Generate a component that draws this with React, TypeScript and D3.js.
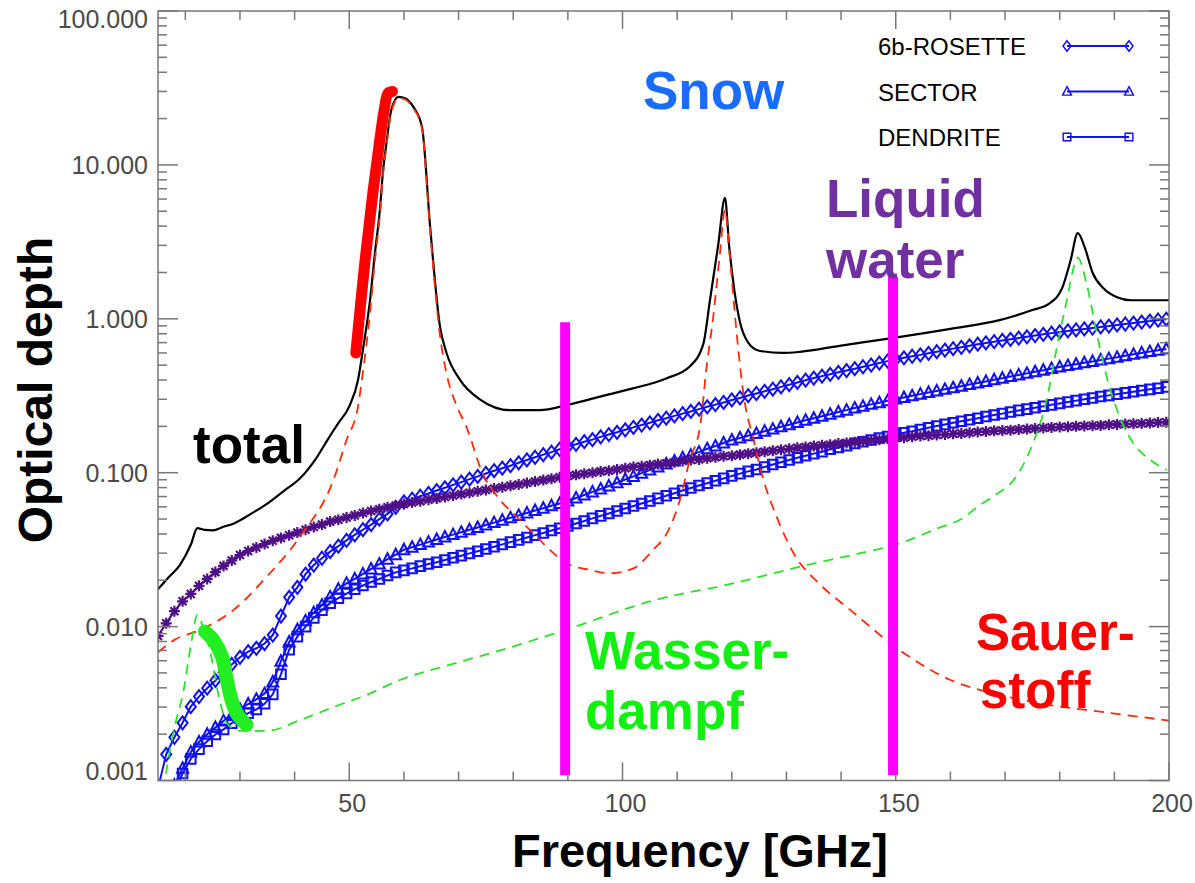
import React from 'react';
import * as d3 from 'd3';

// marker frequency grid [GHz]
const gridFreq = [
  15, 16.5, 18, 19.5, 21, 22.5, 24, 25.5, 27, 28.5,
  30, 31.5, 33, 34.5, 36, 37.5, 39, 40.5, 42, 43.5,
  45, 46.5, 48, 49.5, 51, 52.5, 54, 55.5, 57, 58.5,
  60, 61.5, 63, 64.5, 66, 67.5, 69, 70.5, 72, 73.5,
  75, 76.5, 78, 79.5, 81, 82.5, 84, 85.5, 87, 88.5,
  90, 91.5, 93, 94.5, 96, 97.5, 99, 100.5, 102, 103.5,
  105, 106.5, 108, 109.5, 111, 112.5, 114, 115.5, 117, 118.5,
  120, 121.5, 123, 124.5, 126, 127.5, 129, 130.5, 132, 133.5,
  135, 136.5, 138, 139.5, 141, 142.5, 144, 145.5, 147, 148.5,
  150, 151.5, 153, 154.5, 156, 157.5, 159, 160.5, 162, 163.5,
  165, 166.5, 168, 169.5, 171, 172.5, 174, 175.5, 177, 178.5,
  180, 181.5, 183, 184.5, 186, 187.5, 189, 190.5, 192, 193.5,
  195, 196.5, 198, 199.5,
];

const rosette = [
  0.000891, 0.00148, 0.00191, 0.00237, 0.00302, 0.00351, 0.00398, 0.00447, 0.00505, 0.00568,
  0.00632, 0.00687, 0.00723, 0.00776, 0.00881, 0.0117, 0.0155, 0.018, 0.0219, 0.0251,
  0.0278, 0.0307, 0.0333, 0.0363, 0.0394, 0.0426, 0.046, 0.0499, 0.054, 0.0596,
  0.0646, 0.0673, 0.0703, 0.0733, 0.0766, 0.0798, 0.0834, 0.0869, 0.0908, 0.0946,
  0.0989, 0.103, 0.107, 0.111, 0.116, 0.121, 0.126, 0.131, 0.136, 0.142,
  0.148, 0.153, 0.159, 0.164, 0.171, 0.177, 0.183, 0.19, 0.197, 0.204,
  0.211, 0.219, 0.226, 0.234, 0.242, 0.25, 0.259, 0.268, 0.277, 0.286,
  0.297, 0.306, 0.317, 0.327, 0.338, 0.349, 0.361, 0.373, 0.386, 0.399,
  0.412, 0.424, 0.436, 0.449, 0.461, 0.474, 0.488, 0.501, 0.516, 0.531,
  0.546, 0.558, 0.571, 0.583, 0.597, 0.611, 0.625, 0.64, 0.653, 0.668,
  0.684, 0.697, 0.71, 0.723, 0.736, 0.75, 0.764, 0.778, 0.793, 0.807,
  0.822, 0.834, 0.847, 0.859, 0.871, 0.885, 0.897, 0.912, 0.925, 0.938,
  0.953, 0.966, 0.982, 0.995,
];

const sector = [
  0.000398, 0.000631, 0.000933, 0.0012, 0.00153, 0.00178, 0.002, 0.00221, 0.00244, 0.00264,
  0.0029, 0.00314, 0.00337, 0.00367, 0.00437, 0.00596, 0.00794, 0.00955, 0.0109, 0.0123,
  0.0138, 0.0156, 0.0175, 0.0191, 0.0204, 0.022, 0.0237, 0.0255, 0.0274, 0.0293,
  0.0316, 0.0328, 0.0341, 0.0354, 0.0368, 0.0382, 0.0396, 0.041, 0.0426, 0.0441,
  0.0457, 0.0474, 0.0491, 0.0509, 0.0527, 0.0547, 0.0568, 0.0588, 0.061, 0.0631,
  0.0655, 0.0685, 0.0716, 0.075, 0.0783, 0.082, 0.0861, 0.0904, 0.0946, 0.0993,
  0.104, 0.109, 0.114, 0.119, 0.125, 0.13, 0.136, 0.143, 0.149, 0.156,
  0.163, 0.168, 0.174, 0.18, 0.186, 0.192, 0.199, 0.205, 0.212, 0.219,
  0.226, 0.233, 0.24, 0.248, 0.255, 0.263, 0.27, 0.278, 0.285, 0.293,
  0.301, 0.308, 0.316, 0.324, 0.332, 0.34, 0.348, 0.356, 0.365, 0.374,
  0.383, 0.392, 0.402, 0.411, 0.422, 0.432, 0.442, 0.453, 0.463, 0.475,
  0.486, 0.497, 0.507, 0.518, 0.528, 0.54, 0.551, 0.562, 0.575, 0.588,
  0.6, 0.612, 0.625, 0.637,
];

const dendrite = [
  0.000316, 0.000562, 0.000851, 0.00111, 0.00138, 0.0016, 0.0018, 0.00199, 0.00215, 0.00236,
  0.00254, 0.00274, 0.0029, 0.00315, 0.00363, 0.0049, 0.00708, 0.00861, 0.01, 0.0114,
  0.0128, 0.0142, 0.0153, 0.0164, 0.0175, 0.0185, 0.0195, 0.0204, 0.0215, 0.0225,
  0.0232, 0.0239, 0.0247, 0.0255, 0.0262, 0.0271, 0.028, 0.0289, 0.0299, 0.0309,
  0.0319, 0.033, 0.0342, 0.0354, 0.0366, 0.0379, 0.0393, 0.0406, 0.0421, 0.0436,
  0.0451, 0.0468, 0.0485, 0.0505, 0.0524, 0.0543, 0.0564, 0.0585, 0.0608, 0.0631,
  0.0655, 0.0681, 0.0708, 0.0736, 0.0766, 0.0796, 0.0826, 0.0855, 0.0887, 0.0918,
  0.0953, 0.0986, 0.102, 0.105, 0.109, 0.113, 0.117, 0.121, 0.125, 0.129,
  0.133, 0.137, 0.142, 0.146, 0.15, 0.155, 0.159, 0.163, 0.168, 0.172,
  0.177, 0.182, 0.186, 0.191, 0.196, 0.201, 0.206, 0.211, 0.216, 0.221,
  0.226, 0.232, 0.237, 0.242, 0.248, 0.254, 0.259, 0.264, 0.27, 0.276,
  0.282, 0.288, 0.294, 0.3, 0.306, 0.313, 0.318, 0.324, 0.33, 0.336,
  0.342, 0.348, 0.354, 0.361,
];

const liquid = [
  0.00869, 0.0105, 0.0126, 0.0146, 0.0163, 0.0184, 0.0204, 0.0226, 0.0248, 0.0269,
  0.0292, 0.031, 0.0327, 0.0344, 0.0361, 0.0377, 0.0392, 0.0408, 0.0426, 0.0444,
  0.046, 0.0481, 0.0495, 0.0512, 0.0528, 0.0547, 0.0564, 0.0579, 0.0597, 0.0611,
  0.0627, 0.064, 0.0653, 0.0667, 0.0681, 0.0695, 0.0711, 0.0726, 0.0741, 0.0757,
  0.0773, 0.0789, 0.0805, 0.0822, 0.0839, 0.0857, 0.0877, 0.0895, 0.0914, 0.0933,
  0.0953, 0.0968, 0.0984, 0.1, 0.102, 0.103, 0.105, 0.107, 0.109, 0.11,
  0.112, 0.114, 0.115, 0.117, 0.119, 0.121, 0.122, 0.124, 0.126, 0.128,
  0.129, 0.131, 0.133, 0.135, 0.137, 0.139, 0.141, 0.143, 0.145, 0.147,
  0.149, 0.151, 0.152, 0.155, 0.156, 0.158, 0.16, 0.162, 0.164, 0.166,
  0.168, 0.169, 0.171, 0.173, 0.174, 0.176, 0.177, 0.179, 0.18, 0.182,
  0.184, 0.185, 0.187, 0.188, 0.189, 0.191, 0.192, 0.194, 0.195, 0.197,
  0.198, 0.199, 0.2, 0.201, 0.202, 0.203, 0.205, 0.206, 0.207, 0.208,
  0.209, 0.21, 0.212, 0.213,
];

// total optical depth (black)
const totalFreq = [
  15, 17, 19, 21, 22.2, 23.5, 25, 27, 29, 32, 35, 38, 41, 44, 46, 48, 50,
  51.6, 52.5, 53.8, 54.7, 55.6, 56.2, 56.8, 57.7, 59, 60.3, 61.7, 63.3, 64.8, 66.6, 67.8,
  70.3, 73.9, 79.4, 84.9, 89.8, 95.9, 101.9, 108, 112.3, 114.8, 116, 117.5, 118.75,
  119.5, 120.5, 121.5, 123, 125, 129.4, 132.5, 140, 149, 160, 169, 175, 178,
  180.5, 182, 183.3, 184.6, 186, 188, 190.5, 193, 200,
];
const totalDepth = [
  0.0175, 0.021, 0.0251, 0.034, 0.0436, 0.0425, 0.0422, 0.0445, 0.047, 0.054, 0.063, 0.076, 0.092, 0.125, 0.163, 0.21, 0.27,
  0.4, 0.63, 1.32, 2.68, 5.1, 9.3, 13.8, 22.8, 27.7, 27.0, 23.9, 17.7, 3.96, 0.89, 0.6,
  0.4, 0.3, 0.255, 0.255, 0.275, 0.312, 0.353, 0.41, 0.49, 0.69, 1.32, 3.0, 6.1,
  3.0, 1.5, 0.95, 0.7, 0.62, 0.6, 0.61, 0.67, 0.746, 0.86, 0.98, 1.14, 1.25,
  1.6, 2.4, 3.6, 2.9, 2.0, 1.58, 1.38, 1.32, 1.32,
];

// oxygen (red dashed)
const oxyFreq = [
  15, 18, 22.7, 28.8, 34.9, 41, 47.1, 49.5, 51.6, 52.5, 53.8, 54.7, 55.6, 56.2, 56.8,
  57.7, 59, 60.3, 61.7, 63.3, 64.8, 66.6, 67.8, 69.5, 71.4, 74.4, 77.6, 80.6, 83.7, 86.7,
  89.8, 94.1, 97.7, 102, 105.6, 108.1, 110.5, 112.3, 114.2, 115.4, 116.6, 117.8, 118.75, 119.6, 120.9,
  122.1, 124, 125.8, 128.2, 131.3, 136, 141.6, 150.8, 160, 169, 178, 187.4, 200,
];
const oxyDepth = [
  0.0068, 0.0082, 0.0095, 0.0128, 0.0211, 0.0384, 0.0897, 0.163, 0.27, 0.45, 1.1, 2.4, 4.7, 8.8, 13.2,
  22, 27.2, 26.5, 23.4, 17.3, 3.7, 0.78, 0.44, 0.28, 0.2, 0.099, 0.0665, 0.0518, 0.0403, 0.0315,
  0.0258, 0.0233, 0.0222, 0.0239, 0.0315, 0.0403, 0.0665, 0.121, 0.2, 0.49, 1.03, 2.6, 5.1, 2.6, 0.8,
  0.33, 0.163, 0.0897, 0.0518, 0.03, 0.019, 0.0129, 0.007, 0.0045, 0.0036, 0.0031, 0.0028, 0.00245,
];

// water vapour (green dashed)
const vapFreq = [
  15, 16.3, 18, 19.6, 21, 22.2, 23.5, 24.5, 26, 27.6, 30, 34.9, 41, 47.1, 53.2,
  59.3, 68, 77.6, 89.5, 106, 120, 132.5, 143.5, 150, 158, 162, 165.4, 167.8, 172, 175.1,
  177.6, 179.4, 181.3, 182.8, 183.3, 184.9, 186.8, 188.6, 191, 193.5, 196.6, 199.6,
];
const vapDepth = [
  0.0004, 0.001, 0.0022, 0.0037, 0.0075, 0.0119, 0.0092, 0.007, 0.0037, 0.00236, 0.0021, 0.0021, 0.00247, 0.003, 0.0036,
  0.0045, 0.0056, 0.007, 0.0095, 0.0149, 0.019, 0.0245, 0.03, 0.034, 0.044, 0.05, 0.0617, 0.07, 0.094, 0.155,
  0.296, 0.63, 1.32, 2.3, 2.5, 1.7, 0.8, 0.42, 0.23, 0.155, 0.121, 0.104,
];

// hand-drawn highlights
const redMarkFreq = [51.2, 52.9, 54.3, 55.5, 56.4, 57.1, 57.9];
const redMarkDepth = [0.6, 2.41, 6.5, 13.8, 22.8, 29.2, 30.0];
const greenMarkFreq = [23.6, 25.1, 26.7, 27.6, 28.5, 29.5, 31.2];
const greenMarkDepth = [0.0093, 0.0082, 0.0064, 0.0045, 0.0033, 0.0027, 0.0023];
const barFreq = [89.5, 149.5];
const barTop = [0.95, 1.87];
const barBottom = 0.00108;

const xTicks = [50, 100, 150, 200];
const yTicks = [0.001, 0.01, 0.1, 1, 10, 100];
const yTickLabels = ['0.001', '0.010', '0.100', '1.000', '10.000', '100.000'];
const legendNames = ['6b-ROSETTE', 'SECTOR', 'DENDRITE'];

const BLUE = '#1010f2';
const PURPLE = '#4f0f87';
const AXIS = '#777';
const FONT = "'Liberation Sans', Arial, Helvetica, sans-serif";

const x = d3.scaleLinear().domain([15, 200]).range([158, 1169]);
const y = d3.scaleLog().domain([0.001, 100]).range([780.5, 11]);

const pairs = (fs: number[], vs: number[]) => fs.map((f, i) => [f, vs[i]] as [number, number]);

const straight = d3.line<[number, number]>().x(d => x(d[0])).y(d => y(d[1]));
const smooth = d3.line<[number, number]>().x(d => x(d[0])).y(d => y(d[1])).curve(d3.curveMonotoneX);
const stroke = d3.line<[number, number]>().x(d => x(d[0])).y(d => y(d[1])).curve(d3.curveCatmullRom);

const diamond = 'M0,-6.5L5,0L0,6.5L-5,0Z';
const triangle = 'M0,-6L5.5,4.5L-5.5,4.5Z';
const square = 'M-4.8,-4.8H4.8V4.8H-4.8Z';
const asterisk = 'M0,-5.5V5.5M-5.5,0H5.5M-4,-4L4,4M-4,4L4,-4';

const snowSeries = [
  { values: rosette, shape: diamond },
  { values: sector, shape: triangle },
  { values: dendrite, shape: square },
];

function App() {
  const xMinor = d3.range(20, 200, 10).filter(v => v % 50 !== 0);
  const yMinor: number[] = [];
  [0.001, 0.01, 0.1, 1, 10].forEach(d => d3.range(2, 10).forEach(m => yMinor.push(d * m)));

  const L = 158, R = 1169, T = 11, B = 780.5;

  return (
    <svg width={1195} height={883} style={{ position: 'absolute', left: 0, top: 0, background: '#fff' }}
      fontFamily={FONT}>
      <defs>
        <clipPath id="plotClip">
          <rect x={L} y={T} width={R - L} height={B - T} />
        </clipPath>
      </defs>

      <g clipPath="url(#plotClip)">
        {/* snow crystal types */}
        {snowSeries.map((s, si) => (
          <g key={si} stroke={BLUE} strokeWidth={2} fill="none">
            <path d={straight(pairs(gridFreq, s.values)) || ''} />
            {gridFreq.map((f, i) => (
              <path key={i} d={s.shape} transform={`translate(${x(f)},${y(s.values[i])})`} />
            ))}
          </g>
        ))}

        {/* liquid water */}
        <g stroke={PURPLE} strokeWidth={2.2} fill="none">
          <path d={straight(pairs(gridFreq, liquid)) || ''} />
          {gridFreq.map((f, i) => (
            <path key={i} d={asterisk} transform={`translate(${x(f)},${y(liquid[i])})`} />
          ))}
        </g>

        {/* total */}
        <path d={smooth(pairs(totalFreq, totalDepth)) || ''} fill="none" stroke="#000" strokeWidth={2.2} />
        {/* oxygen */}
        <path d={smooth(pairs(oxyFreq, oxyDepth)) || ''} fill="none" stroke="#ff2a0a" strokeWidth={1.8}
          strokeDasharray="10,7" />
        {/* water vapour */}
        <path d={smooth(pairs(vapFreq, vapDepth)) || ''} fill="none" stroke="#2ee02e" strokeWidth={1.8}
          strokeDasharray="10,7" />
      </g>

      {/* axes frame */}
      <g stroke={AXIS} strokeWidth={1.5} fill="none">
        <rect x={L} y={T} width={R - L} height={B - T} />
        {xTicks.map(v => (
          <g key={v}>
            <line x1={x(v)} x2={x(v)} y1={B} y2={B - 18} />
            <line x1={x(v)} x2={x(v)} y1={T} y2={T + 18} />
          </g>
        ))}
        {xMinor.map(v => (
          <g key={v}>
            <line x1={x(v)} x2={x(v)} y1={B} y2={B - 9} />
            <line x1={x(v)} x2={x(v)} y1={T} y2={T + 9} />
          </g>
        ))}
        {yTicks.map(v => (
          <g key={v}>
            <line x1={L} x2={L + 20} y1={y(v)} y2={y(v)} />
            <line x1={R} x2={R - 20} y1={y(v)} y2={y(v)} />
          </g>
        ))}
        {yMinor.map((v, i) => (
          <g key={i}>
            <line x1={L} x2={L + 9} y1={y(v)} y2={y(v)} />
            <line x1={R} x2={R - 9} y1={y(v)} y2={y(v)} />
          </g>
        ))}
      </g>

      {/* tick labels */}
      <g fill="#4a4a4a" fontSize={25}>
        {yTicks.map((v, i) => (
          <text key={v} x={148} y={Math.min(Math.max(y(v), 19), 771)} dy="0.36em" textAnchor="end">
            {yTickLabels[i]}
          </text>
        ))}
        {xTicks.map(v => (
          <text key={v} x={x(v) + 3} y={812} textAnchor="middle">{v}</text>
        ))}
      </g>

      {/* axis titles */}
      <text x={700} y={867} textAnchor="middle" fontSize={47} fontWeight="bold">Frequency [GHz]</text>
      <text transform="translate(52,390) rotate(-90)" textAnchor="middle" fontSize={48} fontWeight="bold">
        Optical depth
      </text>

      {/* legend */}
      <g>
        {legendNames.map((n, i) => {
          const ly = 46 + i * 45.5;
          return (
            <g key={n}>
              <text x={878} y={ly + 9} fontSize={24} fill="#000">{n}</text>
              <g stroke={BLUE} strokeWidth={1.8} fill="none">
                <line x1={1067} x2={1129} y1={ly} y2={ly} />
                <path d={snowSeries[i].shape} transform={`translate(1067,${ly}) scale(0.8)`} />
                <path d={snowSeries[i].shape} transform={`translate(1129,${ly}) scale(0.8)`} />
              </g>
            </g>
          );
        })}
      </g>

      {/* highlights */}
      <path d={stroke(pairs(redMarkFreq, redMarkDepth)) || ''} fill="none" stroke="#ff0000" strokeWidth={11}
        strokeLinecap="round" strokeLinejoin="round" />
      <path d={stroke(pairs(greenMarkFreq, greenMarkDepth)) || ''} fill="none" stroke="#22ee22" strokeWidth={14}
        strokeLinecap="round" strokeLinejoin="round" />
      {barFreq.map((f, i) => (
        <line key={f} x1={x(f)} x2={x(f)} y1={y(barTop[i])} y2={y(barBottom)} stroke="#ff00ff" strokeWidth={10} />
      ))}

      {/* annotations */}
      <g fontWeight="bold" fontSize={53}>
        <text x={643} y={109} fill="#1a6cff">Snow</text>
        <text x={826} y={217} fill="#7030a0">Liquid</text>
        <text x={826} y={278} fill="#7030a0">water</text>
        <text x={193} y={463} fill="#000">total</text>
        <text x={585} y={669} fill="#11f011">Wasser-</text>
        <text x={585} y={729} fill="#11f011">dampf</text>
        <text x={976} y={650} fill="#ff0000" fontSize={51}>Sauer-</text>
        <text x={980} y={708} fill="#ff0000" fontSize={51}>stoff</text>
      </g>
    </svg>
  );
}

export default App;
